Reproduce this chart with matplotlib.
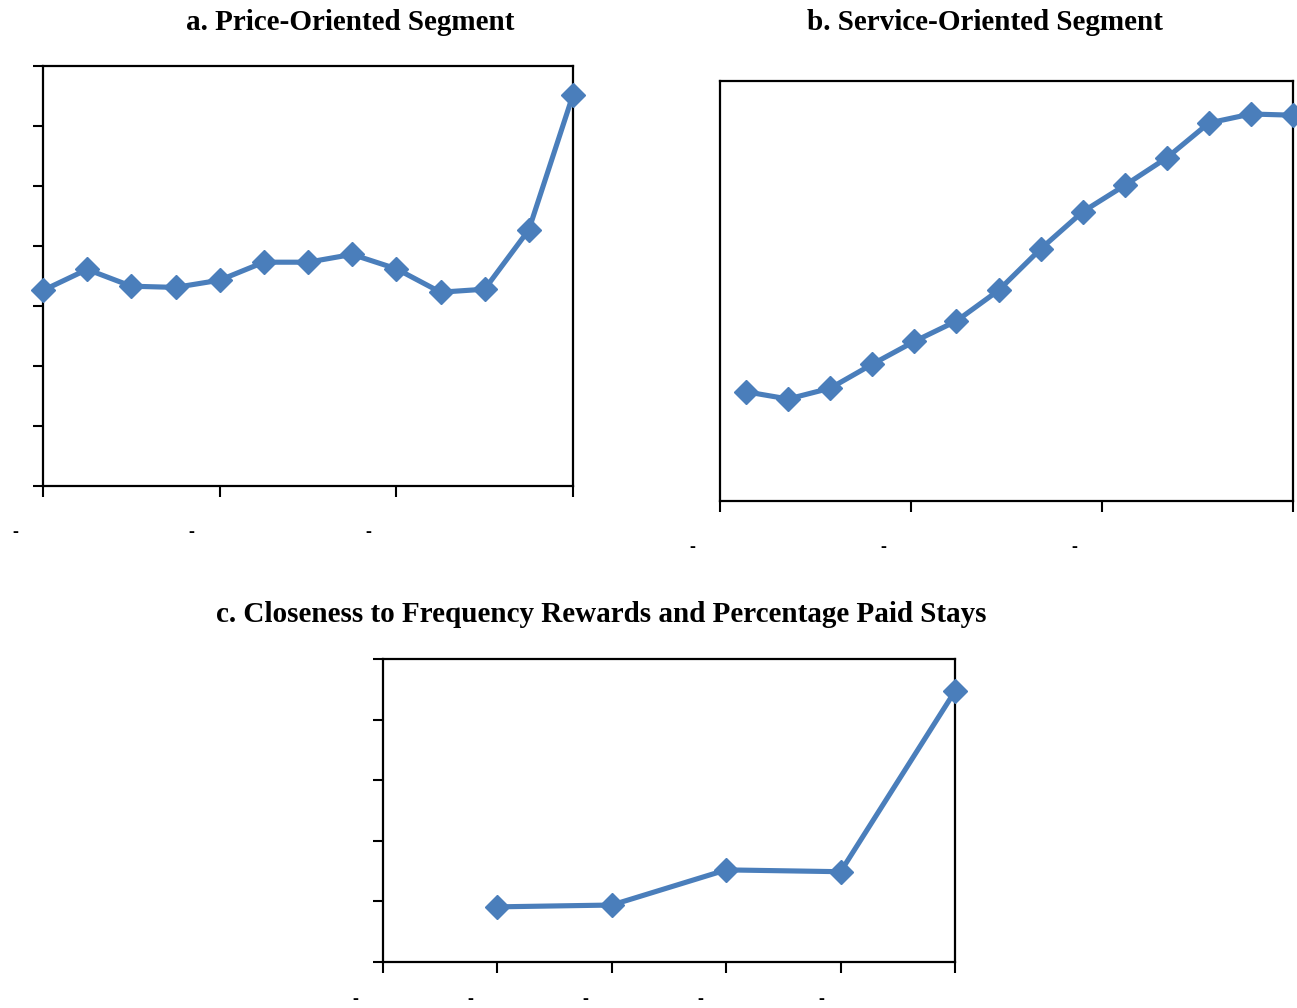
import matplotlib
matplotlib.use("Agg")
import matplotlib.pyplot as plt
from matplotlib.transforms import ScaledTranslation
import numpy as np

#-------------------- DATA -------------------#
price_x = np.arange(0, 13)
price_y = [3.26, 3.61, 3.33, 3.31, 3.43, 3.73, 3.73, 3.86, 3.62, 3.23, 3.28, 4.27, 6.52]

service_x = np.arange(1, 15)
service_y = [1.82, 1.70, 1.88, 2.28, 2.66, 3.00, 3.51, 4.20, 4.82, 5.26, 5.72, 6.30, 6.45, 6.43]

close_x = [1, 2, 3, 4, 5]
close_y = [0.91, 0.94, 1.52, 1.49, 4.47]

titles = ["a. Price-Oriented Segment",
          "b. Service-Oriented Segment",
          "c. Closeness to Frequency Rewards and Percentage Paid Stays"]

#-------------------- STYLE -------------------#
blue = "#4a7ebb"
W, H = 1297, 1008
fig = plt.figure(figsize=(W / 100, H / 100), dpi=100)

def box(l, t, r, b):
    return [l / W, 1 - b / H, (r - l) / W, (b - t) / H]

def style(ax, xticks, xlabels, offsets, pad, yticks=None):
    for s in ax.spines.values():
        s.set_linewidth(1.6)
    ax.set_xticks(xticks)
    ax.set_xticklabels(xlabels, fontsize=13, fontweight="bold", family="Liberation Serif")
    ax.tick_params(axis="x", direction="out", length=8, width=1.5, pad=pad)
    for lab, dx in zip(ax.get_xticklabels(), offsets):
        lab.set_transform(lab.get_transform() + ScaledTranslation(dx / 100, 0, fig.dpi_scale_trans))
    if yticks is None:
        ax.set_yticks([])
    else:
        ax.set_yticks(yticks)
        ax.set_yticklabels([])
        ax.tick_params(axis="y", direction="out", length=7, width=1.5)

line_kw = dict(color=blue, lw=3.7, marker="D", ms=12, clip_on=False, zorder=5)

#------------------ PANEL a -------------------#
ax1 = fig.add_axes(box(43, 66, 573, 486))
ax1.plot(price_x, price_y, **line_kw)
ax1.set_xlim(0, 12)
ax1.set_ylim(0, 7)
style(ax1, [0, 4, 8, 12], ["-", "-", "-", ""], [-28] * 4, 19, yticks=np.arange(0, 8))

#------------------ PANEL b -------------------#
ax2 = fig.add_axes(box(720, 81, 1293, 501))
ax2.plot(service_x, service_y, **line_kw)
lo = 14 - 13.62
ax2.set_xlim(lo, 14)
ax2.set_ylim(0, 7)
style(ax2, np.linspace(lo, 14, 4), ["-", "-", "-", ""], [-28] * 4, 19)

#------------------ PANEL c -------------------#
ax3 = fig.add_axes(box(383, 659, 955, 962))
ax3.plot(close_x, close_y, **line_kw)
ax3.set_xlim(0, 5)
ax3.set_ylim(0, 5)
style(ax3, np.arange(0, 6), ["-", "-", "-", "-", "-", ""],
      [-28, -27, -26, -26, -19, 0], 13, yticks=np.arange(0, 6))

#------------------ TITLES -------------------#
for (x, y), t in zip([(350, 23), (985, 23), (601, 615)], titles):
    fig.text(x / W, 1 - y / H, t, ha="center", va="center",
             fontsize=21, fontweight="bold", family="Liberation Serif")

plt.savefig("out.png", dpi=100)
